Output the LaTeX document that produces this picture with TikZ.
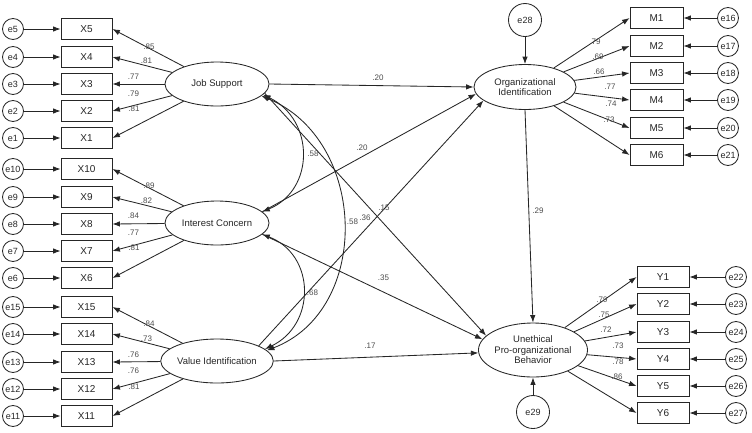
\documentclass[tikz,border=0pt]{standalone}
\usepackage{fontspec}
\setmainfont{Liberation Sans}
\usetikzlibrary{shapes.geometric,arrows.meta}
\begin{document}
\begin{tikzpicture}[x=1pt,y=-1pt,
  ln/.style={draw=black!85, line width=0.85pt},
  arr/.style={ln,-{Latex[length=7.5pt,width=5.5pt]}},
  dbl/.style={ln,{Latex[length=7.5pt,width=5.5pt]}-{Latex[length=7.5pt,width=5.5pt]}},
  obs/.style={draw=black!85, line width=0.85pt, rectangle, minimum width=51pt, minimum height=21pt, inner sep=0pt, font=\fontsize{10}{12}\selectfont, text=black!85},
  err/.style={draw=black!85, line width=0.85pt, circle, minimum size=21pt, inner sep=0pt, font=\fontsize{9}{10}\selectfont, text=black!85},
  bigerr/.style={err, minimum size=33pt},
  lat/.style={draw=black!85, line width=0.85pt, ellipse, minimum width=104pt, minimum height=44pt, inner sep=0pt, align=center, font=\fontsize{9.5}{10.5}\selectfont, text=black!85},
  coef/.style={font=\fontsize{8}{9}\selectfont, text=black!70, inner sep=0.5pt}]
\useasboundingbox (0,0) rectangle (752,432);

% left observed variables
\foreach \n/\y in {5/29,4/57,3/84,2/111,1/138,10/169,9/197,8/224,7/251,6/278,15/307,14/334,13/362,12/389,11/416}{
  \node[obs] (x\n) at (86.5,\y) {X\n};
  \node[err] (e\n) at (13,\y) {e\n};
  \draw[arr] (e\n) -- (x\n);
}

% latent variables
\node[lat] (js) at (217,84) {Job Support};
\node[lat] (ic) at (217,223) {Interest Concern};
\node[lat] (vi) at (217,361) {Value Identification};
\node[lat, minimum width=102pt, minimum height=45pt] (oi) at (525,87) {Organizational\\Identification};
\node[lat, minimum width=102pt, minimum height=54pt] (upb) at (533,350) {Unethical\\Pro-organizational\\Behavior};

\node[bigerr] (e28) at (525,20) {e28};
\node[bigerr] (e29) at (533,412) {e29};

% M indicators
\foreach \n/\y/\e in {1/18/16,2/46/17,3/73/18,4/100/19,5/128/20,6/155/21}{
  \node[obs, minimum width=53pt] (m\n) at (656.5,\y) {M\n};
  \node[err] (e\e) at (728,\y) {e\e};
  \draw[arr] (e\e) -- (m\n);
  \draw[arr] (oi) -- (m\n.west);
}
% Y indicators
\foreach \n/\y/\e in {1/277/22,2/304/23,3/332/24,4/359/25,5/386/26,6/413/27}{
  \node[obs, minimum width=52pt] (y\n) at (663,\y) {Y\n};
  \node[err] (e\e) at (736,\y) {e\e};
  \draw[arr] (e\e) -- (y\n);
  \draw[arr] (upb) -- (y\n.west);
}

% loadings of left latents
\foreach \n in {5,4,3,2,1}{\draw[arr] (js) -- (x\n.east);}
\foreach \n in {10,9,8,7,6}{\draw[arr] (ic) -- (x\n.east);}
\foreach \n in {15,14,13,12,11}{\draw[arr] (vi) -- (x\n.east);}

% structural paths
\draw[arr] (js.east) -- (oi.west);
\draw[arr] (ic.14) -- (oi.188);
\draw[arr] (vi.20) -- (oi.198);
\draw[arr] (js.-11) -- (upb.163);
\draw[arr] (ic.-14) -- (upb.168);
\draw[arr] (vi.east) -- (upb.183);
\draw[arr] (oi.south) -- (upb.north);
\draw[arr] (e28) -- (oi);
\draw[arr] (e29) -- (upb);

% covariances
\draw[dbl] (js.-13) .. controls (315,120) and (315,190) .. (ic.14);
\draw[dbl] (js.-15) .. controls (368,140) and (372,310) .. (vi.12);
\draw[dbl] (ic.-14) .. controls (316,255) and (316,325) .. (vi.14);

% loading coefficients
\node[coef] (c1) at (149,47) {.85};
\node[coef] (c2) at (146.5,61) {.81};
\node[coef] (c3) at (133.5,77) {.77};
\node[coef] (c4) at (133.5,93.5) {.79};
\node[coef] (c5) at (134,109) {.81};
\node[coef] (c6) at (149,186) {.89};
\node[coef] (c7) at (146.5,201) {.82};
\node[coef] (c8) at (133.5,216) {.84};
\node[coef] (c9) at (133.5,232.5) {.77};
\node[coef] (c10) at (134,248) {.81};
\node[coef] (c11) at (149,324) {.84};
\node[coef] (c12) at (146.5,338.5) {.73};
\node[coef] (c13) at (133.5,354.5) {.76};
\node[coef] (c14) at (133.5,371) {.76};
\node[coef] (c15) at (134,386.5) {.81};

\node[coef] (c16) at (595,42) {.79};
\node[coef] (c17) at (598,57) {.69};
\node[coef] (c18) at (599,72) {.66};
\node[coef] (c19) at (610,87) {.77};
\node[coef] (c20) at (611,104) {.74};
\node[coef] (c21) at (609,120) {.73};

\node[coef] (c22) at (602,300) {.79};
\node[coef] (c23) at (604,315) {.75};
\node[coef] (c24) at (606,330) {.72};
\node[coef] (c25) at (618,346) {.73};
\node[coef] (c26) at (618,362) {.78};
\node[coef] (c27) at (617,377) {.86};

% structural coefficients
\node[coef] (s1) at (378,78) {.20};
\node[coef] (s2) at (362,148) {.20};
\node[coef] (s3) at (313,154) {.58};
\node[coef] (s4) at (352.5,222) {.58};
\node[coef] (s5) at (365,218) {.36};
\node[coef] (s6) at (384,208) {.15};
\node[coef] (s7) at (312.5,292.5) {.68};
\node[coef] (s8) at (383.5,278) {.35};
\node[coef] (s9) at (370,346) {.17};
\node[coef] (s10) at (538,211) {.29};
\end{tikzpicture}
\end{document}
